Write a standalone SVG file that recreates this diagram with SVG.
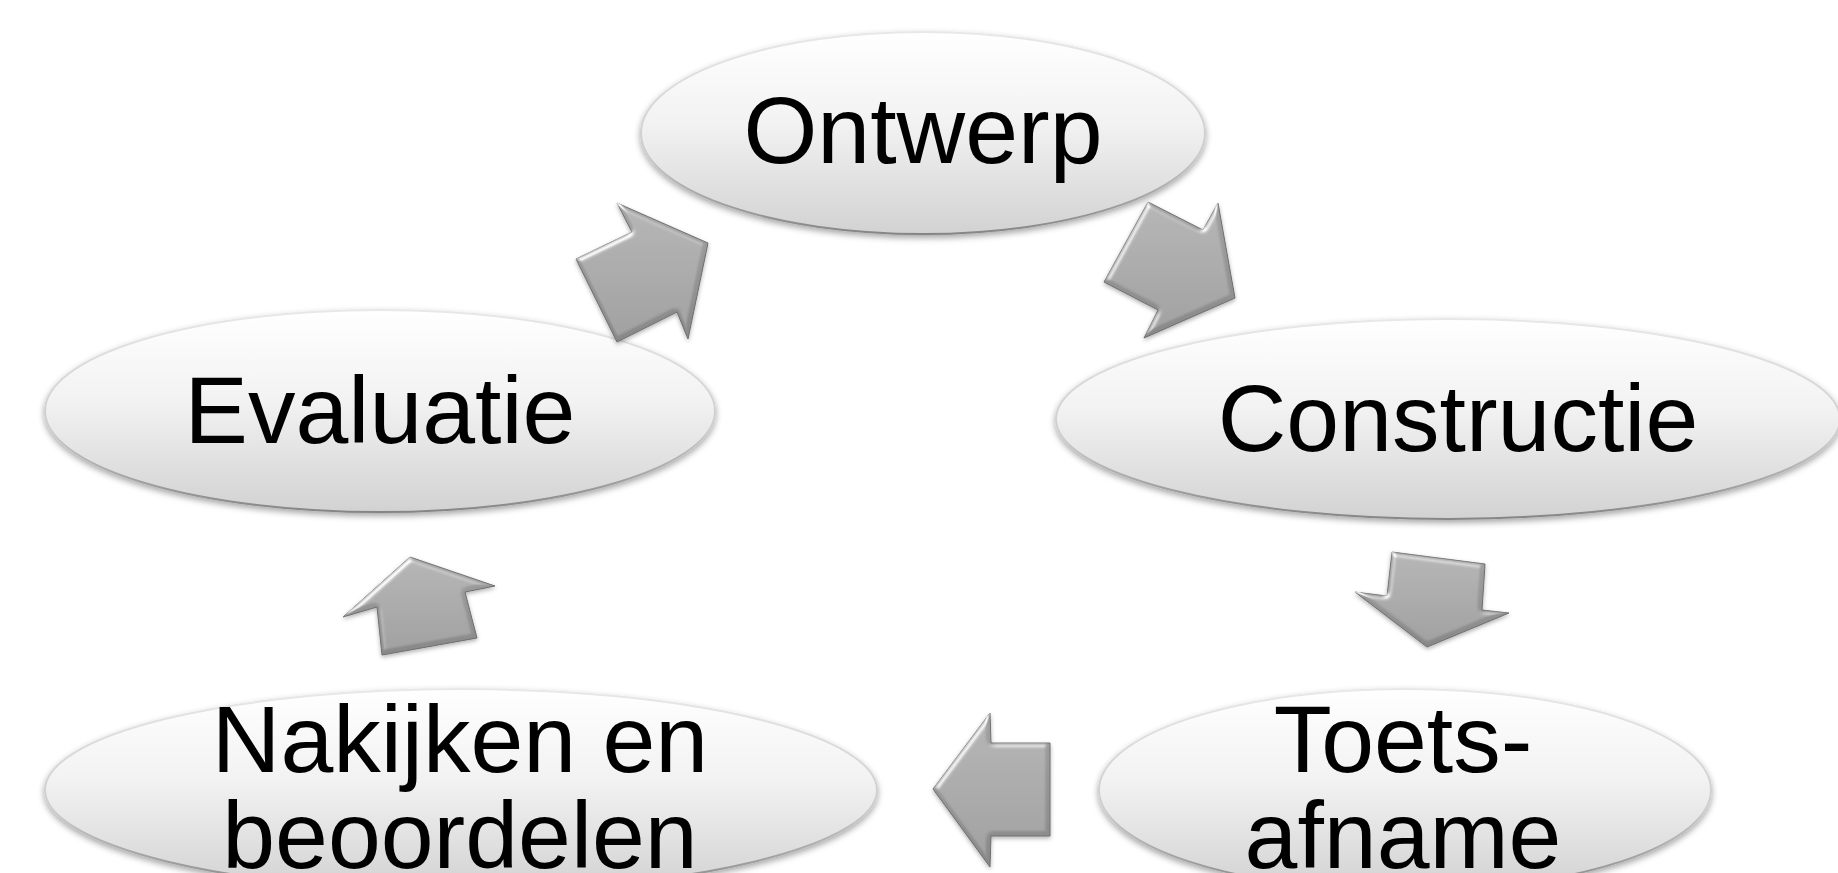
<svg xmlns="http://www.w3.org/2000/svg" width="1838" height="873" viewBox="0 0 1838 873">
  <defs>
    <linearGradient id="eg" x1="0" y1="0" x2="0" y2="1">
      <stop offset="0" stop-color="#ffffff"/>
      <stop offset="0.45" stop-color="#f2f2f2"/>
      <stop offset="1" stop-color="#d2d2d2"/>
    </linearGradient>
    <linearGradient id="es" x1="0" y1="0" x2="0" y2="1">
      <stop offset="0" stop-color="#e8e8e8"/>
      <stop offset="0.6" stop-color="#cccccc"/>
      <stop offset="1" stop-color="#858585"/>
    </linearGradient>
    <linearGradient id="ag" x1="0" y1="0" x2="0" y2="1">
      <stop offset="0" stop-color="#a2a2a2"/>
      <stop offset="1" stop-color="#888888"/>
    </linearGradient>
    <filter id="sh" x="-10%" y="-10%" width="120%" height="130%">
      <feGaussianBlur in="SourceAlpha" stdDeviation="3"/>
      <feOffset dy="3" result="b"/>
      <feFlood flood-color="#000" flood-opacity="0.35"/>
      <feComposite in2="b" operator="in" result="s"/>
      <feMerge><feMergeNode in="s"/><feMergeNode in="SourceGraphic"/></feMerge>
    </filter>
    <filter id="bevel" x="-10%" y="-10%" width="120%" height="130%">
      <feGaussianBlur in="SourceAlpha" stdDeviation="2.5" result="blur"/>
      <feSpecularLighting in="blur" surfaceScale="3" specularConstant="0.8" specularExponent="18" lighting-color="#ffffff" result="spec">
        <feDistantLight azimuth="235" elevation="40"/>
      </feSpecularLighting>
      <feComposite in="spec" in2="SourceAlpha" operator="in" result="specIn"/>
      <feComposite in="SourceGraphic" in2="specIn" operator="arithmetic" k1="0" k2="1" k3="0.8" k4="0" result="lit"/>
      <feGaussianBlur in="SourceAlpha" stdDeviation="2"/>
      <feOffset dy="2" result="ob"/>
      <feFlood flood-color="#000" flood-opacity="0.3"/>
      <feComposite in2="ob" operator="in" result="ds"/>
      <feMerge><feMergeNode in="ds"/><feMergeNode in="lit"/></feMerge>
    </filter>
  </defs>
  <style>
    .node ellipse { fill: url(#eg); stroke: url(#es); stroke-width: 2; filter: url(#sh); }
    .node text { font-family: "Liberation Sans", Arial, sans-serif; font-size: 95px; fill: #000; text-anchor: middle; }
    .arrow { fill: url(#ag); stroke: #6e6e6e; stroke-width: 1; stroke-linejoin: round; filter: url(#bevel); }
  </style>
  <rect width="1838" height="873" fill="#ffffff"/>

  <g id="node-ontwerp" class="node">
    <ellipse cx="923" cy="133" rx="282" ry="101"/>
    <text x="923" y="163">Ontwerp</text>
  </g>
  <g id="node-constructie" class="node">
    <ellipse cx="1448" cy="419" rx="392" ry="100"/>
    <text x="1458" y="451">Constructie</text>
  </g>
  <g id="node-toetsafname" class="node">
    <ellipse cx="1405" cy="790" rx="306" ry="101"/>
    <text x="1403" y="772">Toets-</text>
    <text x="1403" y="868">afname</text>
  </g>
  <g id="node-nakijken" class="node">
    <ellipse cx="461" cy="790" rx="416" ry="101"/>
    <text x="460" y="772">Nakijken en</text>
    <text x="460" y="868">beoordelen</text>
  </g>
  <g id="node-evaluatie" class="node">
    <ellipse cx="380" cy="411" rx="335" ry="101"/>
    <text x="380" y="443">Evaluatie</text>
  </g>

  <g id="connectors">
    <polygon class="arrow" points="617,203 708,243 688,339 677,312 617,342 576,259 632,232"/>
    <polygon class="arrow" points="1148,202 1203,230 1218,203 1235,298 1144,338 1158,310 1104,282"/>
    <polygon class="arrow" points="1392,552 1485,564 1482,610 1509,613 1427,647 1355,592 1387,596"/>
    <polygon class="arrow" points="990,713 991,743 1050,743 1050,836 991,836 990,867 933,789"/>
    <polygon class="arrow" points="410,557 495,586 465,592 477,638 382,655 377,607 343,617"/>
  </g>
</svg>
